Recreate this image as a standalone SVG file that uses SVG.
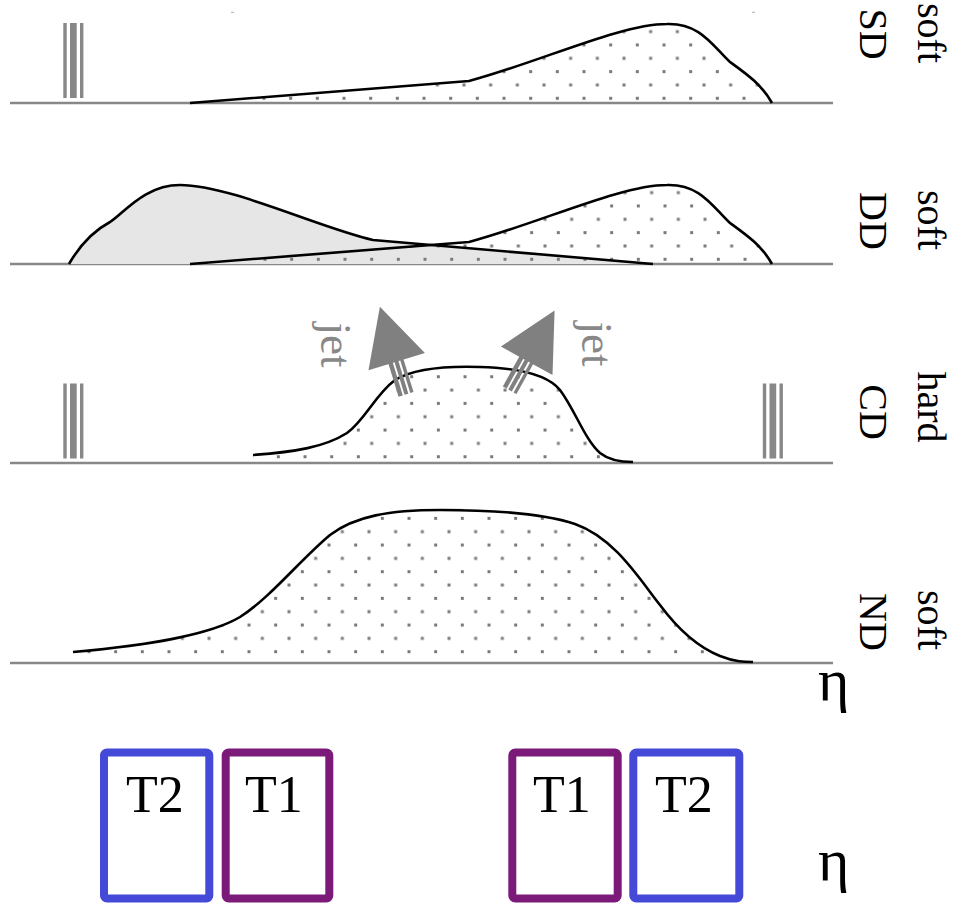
<svg xmlns="http://www.w3.org/2000/svg" xmlns:xlink="http://www.w3.org/1999/xlink" width="953" height="905" viewBox="0 0 953 905">
<style>
.base{stroke:#888;stroke-width:2.6;fill:none}
.curve{stroke:#000;stroke-width:2.6;fill:none;stroke-linejoin:round}
.bar{fill:#888}
.lbl{font-family:"Liberation Serif","Times New Roman",serif;font-size:40px;fill:#000;text-anchor:middle}
.jet{font-family:"Liberation Serif","Times New Roman",serif;font-size:45px;fill:#888;text-anchor:middle}
.eta{font-family:"Liberation Serif","Times New Roman",serif;font-size:60px;fill:#000}
.tl{font-family:"Liberation Serif","Times New Roman",serif;font-size:52px;fill:#000;text-anchor:middle}
.arrow{fill:#808080}
</style>
<defs>
<pattern id="dots" width="26.667" height="26.667" patternUnits="userSpaceOnUse">
<rect x="0" y="0" width="3" height="3" fill="#7a7a7a"/>
<rect x="13.33" y="13.33" width="3" height="3" fill="#7a7a7a"/>
</pattern>
<pattern id="dSD" xlink:href="#dots" x="22.5" y="16.8"/>
<pattern id="dDD" xlink:href="#dots" x="23.5" y="16.8"/>
<pattern id="dCD" xlink:href="#dots" x="10.2" y="1.9"/>
<pattern id="dND" xlink:href="#dots" x="7.5" y="10.2"/>
<path id="sdShape" d="M190,103 L469,81 C540,62 620,24 667,24 C700,23 712,45 730,62 C748,75 762,85 772,103"/>
<g id="bars">
<rect class="bar" x="63.3" y="0" width="3.4" height="75"/>
<rect class="bar" x="70" y="0" width="6.7" height="75"/>
<rect class="bar" x="80" y="0" width="3.4" height="75"/>
</g>
<g id="jetArrow">
<polygon class="arrow" points="0,-57.5 -29.5,0 29.5,0"/>
<rect class="arrow" x="-8.5" y="-3" width="4.5" height="37"/>
<rect class="arrow" x="-2.2" y="-3" width="4" height="37"/>
<rect class="arrow" x="3.8" y="-3" width="3.4" height="37"/>
</g>
</defs>

<g id="panel-SD">
<line class="base" x1="10" y1="103" x2="833" y2="103"/>
<use xlink:href="#bars" transform="translate(0,23)"/>
<path d="M190,103 L469,81 C540,62 620,24 667,24 C700,23 712,45 730,62 C748,75 762,85 772,103 Z" fill="url(#dSD)"/>
<use xlink:href="#sdShape" class="curve"/>
<line x1="231" y1="12.3" x2="234" y2="12.3" stroke="#999" stroke-width="0.8"/>
<line x1="752" y1="12.3" x2="755" y2="12.3" stroke="#999" stroke-width="0.8"/>
<text class="lbl" transform="translate(918,33) rotate(90)">soft</text>
<text class="lbl" transform="translate(860,34) rotate(90)">SD</text>
</g>

<g id="panel-DD">
<line class="base" x1="10" y1="264" x2="833" y2="264"/>
<path d="M69,264 C80,245 95,230 110,222 C125,212 145,185 180,185 C230,185 320,228 373,240 L653,264 Z" fill="#e6e6e6"/>
<path d="M190,103 L469,81 C540,62 620,24 667,24 C700,23 712,45 730,62 C748,75 762,85 772,103 Z" transform="translate(0,161)" fill="url(#dDD)"/>
<path class="curve" d="M69,264 C80,245 95,230 110,222 C125,212 145,185 180,185 C230,185 320,228 373,240 L653,264"/>
<use xlink:href="#sdShape" class="curve" transform="translate(0,161)"/>
<text class="lbl" transform="translate(918,220) rotate(90)">soft</text>
<text class="lbl" transform="translate(860,221) rotate(90)">DD</text>
</g>

<g id="panel-CD">
<line class="base" x1="10" y1="463" x2="833" y2="463"/>
<use xlink:href="#bars" transform="translate(0,383.5)"/>
<use xlink:href="#bars" transform="translate(699.5,383.5)"/>
<path d="M253,455 C295,452 325,447 347,433 C365,420 375,395 395,380 C415,368 450,366 480,367 C520,368 548,375 560,390 C575,410 585,440 600,453 C610,461 622,462 633,462 L633,463 L253,463 Z" fill="url(#dCD)"/>
<path class="curve" d="M253,455 C295,452 325,447 347,433 C365,420 375,395 395,380 C415,368 450,366 480,367 C520,368 548,375 560,390 C575,410 585,440 600,453 C610,461 622,462 633,462"/>
<text class="lbl" transform="translate(918,407) rotate(90)">hard</text>
<text class="lbl" transform="translate(860,412) rotate(90)">CD</text>
</g>

<g id="connectors">
<g id="jet-left">
<use xlink:href="#jetArrow" transform="translate(396.7,361.7) rotate(-17)"/>
<text class="jet" transform="translate(321,345) rotate(90)">jet</text>
</g>
<g id="jet-right">
<use xlink:href="#jetArrow" transform="translate(526.7,360.8) rotate(29)"/>
<text class="jet" transform="translate(582,344) rotate(90)">jet</text>
</g>
</g>

<g id="panel-ND">
<line class="base" x1="10" y1="663" x2="833" y2="663"/>
<path d="M73,652 C150,645 210,635 240,617 C270,598 300,560 330,535 C355,516 390,510 440,510 C500,510 545,514 575,524 C615,538 640,580 660,605 C680,632 700,648 720,656 C735,662 745,662 753,662 L753,663 L73,663 Z" fill="url(#dND)"/>
<path class="curve" d="M73,652 C150,645 210,635 240,617 C270,598 300,560 330,535 C355,516 390,510 440,510 C500,510 545,514 575,524 C615,538 640,580 660,605 C680,632 700,648 720,656 C735,662 745,662 753,662"/>
<text class="lbl" transform="translate(918,620) rotate(90)">soft</text>
<text class="lbl" transform="translate(860,622) rotate(90)">ND</text>
</g>

<text class="eta" x="818" y="700">η</text>
<text class="eta" x="818" y="880">η</text>

<g id="box-T2-left">
<rect x="104" y="752.5" width="105.3" height="146" rx="3" fill="#fff" stroke="#4549d8" stroke-width="8"/>
<text class="tl" x="155" y="812">T2</text>
</g>
<g id="box-T1-left">
<rect x="225.7" y="752.5" width="103.6" height="146" rx="3" fill="#fff" stroke="#7b1a78" stroke-width="8"/>
<text class="tl" x="274" y="812">T1</text>
</g>
<g id="box-T1-right">
<rect x="512.3" y="752.5" width="105.4" height="146" rx="3" fill="#fff" stroke="#7b1a78" stroke-width="8"/>
<text class="tl" x="562" y="812">T1</text>
</g>
<g id="box-T2-right">
<rect x="633.3" y="752.5" width="106" height="146" rx="3" fill="#fff" stroke="#4549d8" stroke-width="8"/>
<text class="tl" x="684" y="812">T2</text>
</g>
</svg>
